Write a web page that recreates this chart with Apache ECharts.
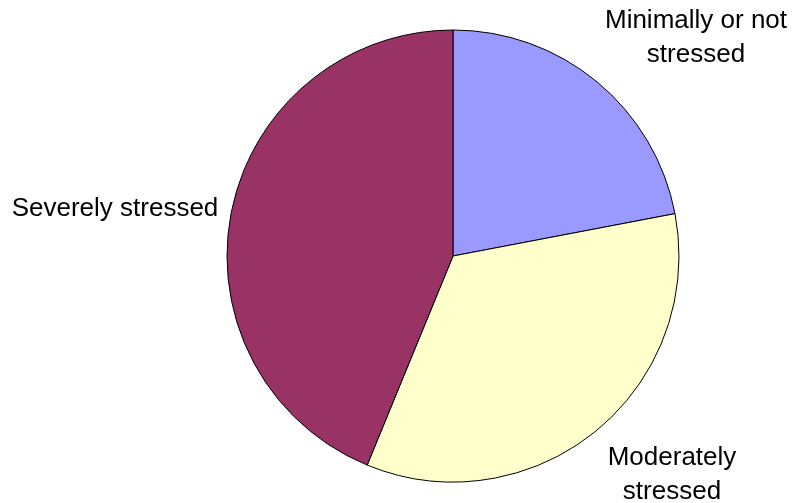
<!DOCTYPE html>
<html>
<head>
<meta charset="utf-8">
<script src="https://cdn.jsdelivr.net/npm/echarts@6/dist/echarts.min.js"></script>
<style>html,body{margin:0;padding:0;background:#fff}#c{width:793px;height:503px}</style>
</head>
<body>
<div id="c"></div>
<script>
const categories = ['Minimally or not\nstressed', 'Moderately\nstressed', 'Severely stressed'];
const values = [22.0, 34.2, 43.8];
const colors = ['#9999FF', '#FFFFCC', '#993366'];
const labelPos = [[696, 38], [672, 475], [115, 209]];

const chart = echarts.init(document.getElementById('c'), null, {renderer: 'canvas'});
chart.setOption({
  animation: false,
  backgroundColor: '#ffffff',
  series: [{
    type: 'pie',
    center: [453, 256],
    radius: 226,
    startAngle: 90,
    clockwise: true,
    data: categories.map((n, i) => ({name: n, value: values[i], itemStyle: {color: colors[i]}})),
    itemStyle: {borderColor: '#000', borderWidth: 1},
    label: {
      show: true,
      position: 'outside',
      formatter: '{b}',
      color: '#000',
      fontFamily: 'Liberation Sans, Arial, sans-serif',
      fontSize: 26,
      lineHeight: 34,
      align: 'center',
      overflow: 'none',
      width: 400
    },
    labelLine: {show: false},
    labelLayout: function (p) {
      const pos = labelPos[p.dataIndex];
      return {x: pos[0], y: pos[1], align: 'center', verticalAlign: 'middle', hideOverlap: false};
    },
    emphasis: {disabled: true}
  }]
});
</script>
</body>
</html>
